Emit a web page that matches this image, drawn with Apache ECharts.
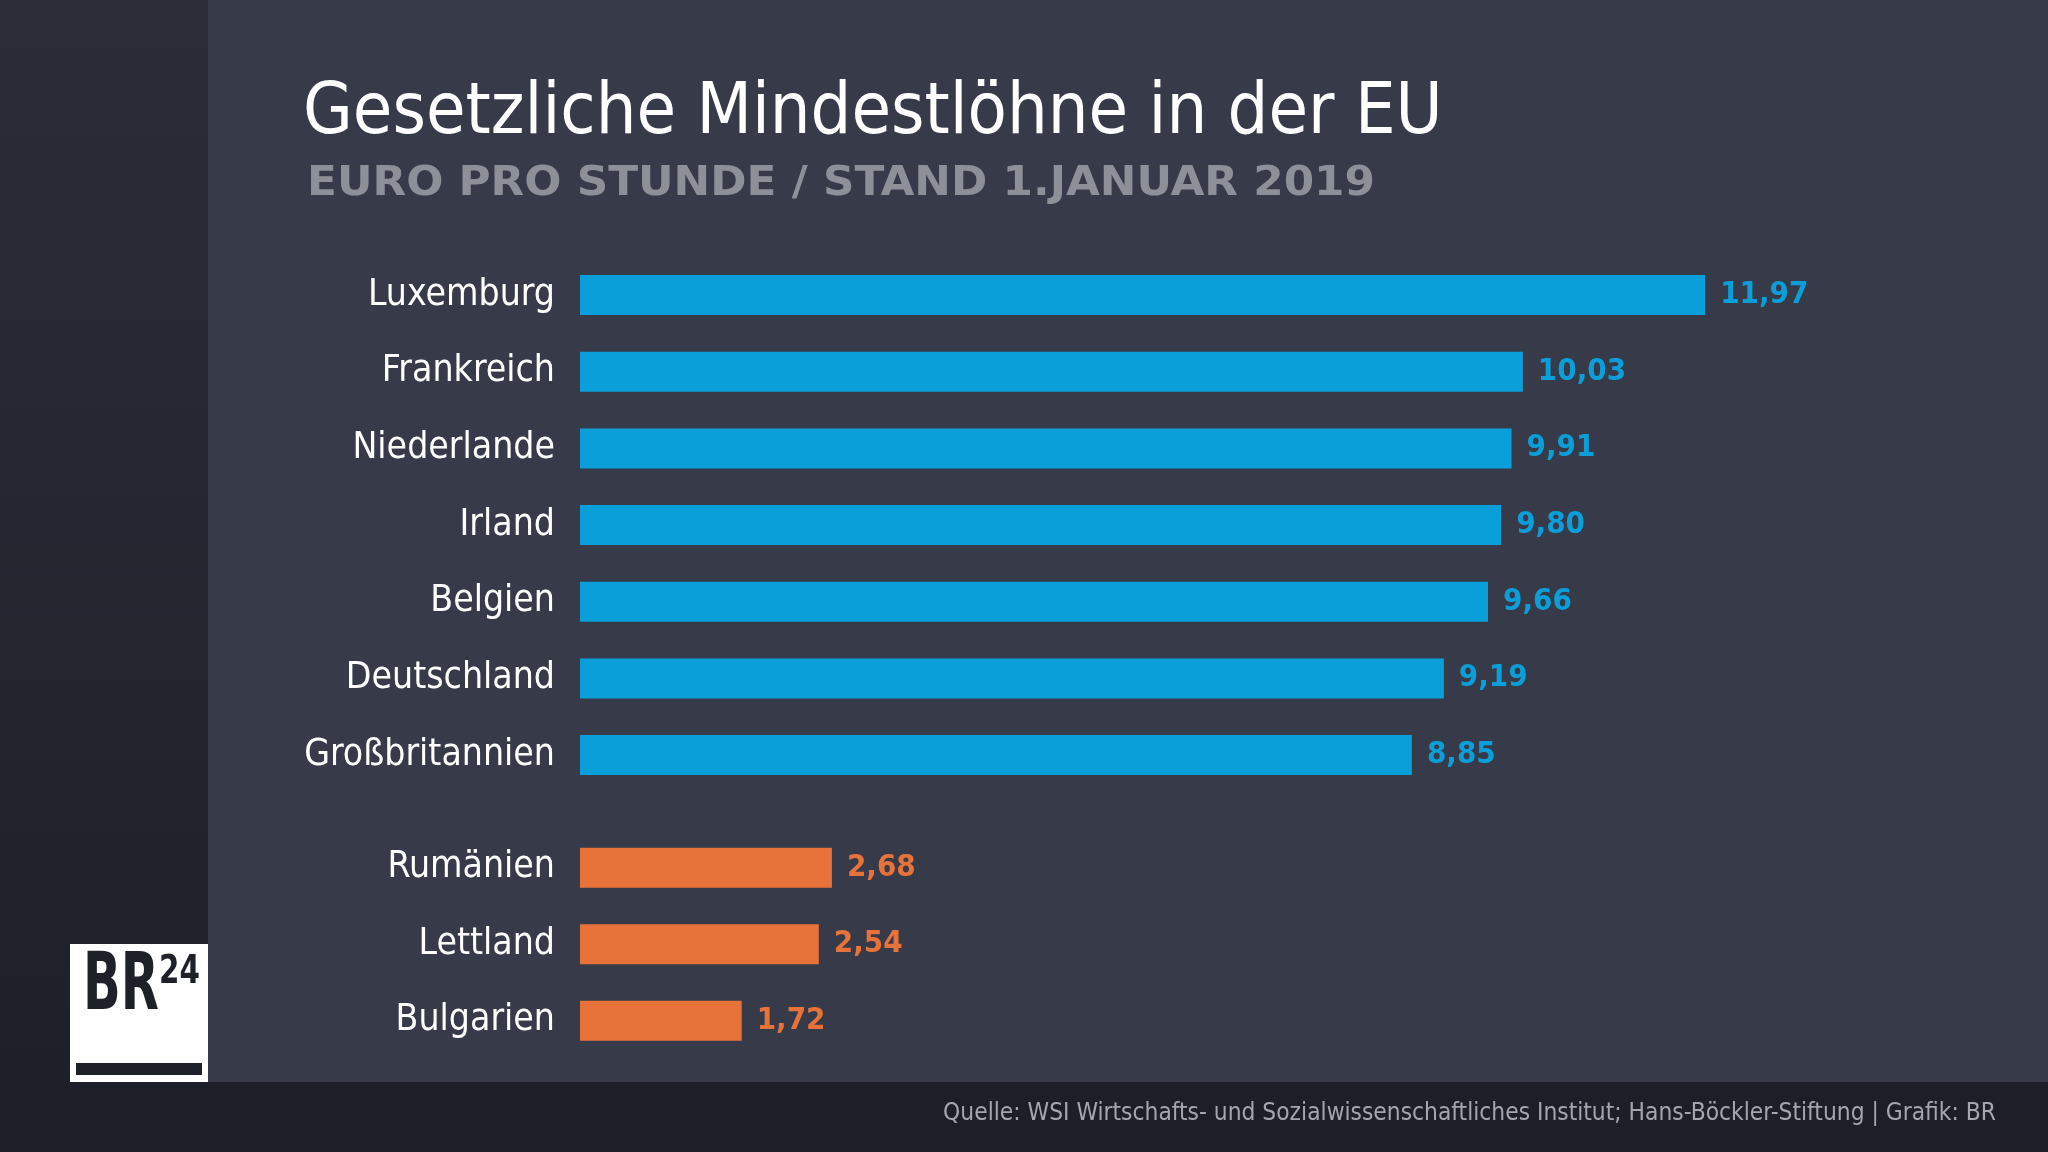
<!DOCTYPE html>
<html><head><meta charset="utf-8">
<script src="https://cdn.jsdelivr.net/npm/echarts@6/dist/echarts.min.js"></script>
<style>html,body{margin:0;padding:0;background:#363a49}#c{width:2048px;height:1152px}</style>
</head><body><div id="c"></div>
<script>
// ---- data ----
const topCountries = ['Luxemburg','Frankreich','Niederlande','Irland','Belgien','Deutschland','Großbritannien'];
const topValues = [11.97, 10.03, 9.91, 9.80, 9.66, 9.19, 8.85];
const bottomCountries = ['Rumänien','Lettland','Bulgarien'];
const bottomValues = [2.68, 2.54, 1.72];
const titleText = 'Gesetzliche Mindestlöhne in der EU';
const subtitleText = 'EURO PRO STUNDE / STAND 1.JANUAR 2019';
const sourceText = 'Quelle: WSI Wirtschafts- und Sozialwissenschaftliches Institut; Hans-Böckler-Stiftung | Grafik: BR';

// ---- font helpers ----
const ctx = document.createElement('canvas').getContext('2d');
function hasFont(f){
  const s='abcdefghijklmnopqrstuvwxyzABCDEFGHIJ0123456789';
  ctx.font='72px monospace'; const a=ctx.measureText(s).width;
  ctx.font="72px '"+f+"', monospace"; const b=ctx.measureText(s).width;
  ctx.font='72px serif'; const c=ctx.measureText(s).width;
  ctx.font="72px '"+f+"', serif"; const d=ctx.measureText(s).width;
  return a!==b || c!==d;
}
const candidates = ['Liberation Sans Narrow','DejaVu Sans Condensed','Noto Sans'];
let FONT = 'Noto Sans';
for (const f of candidates){ if (hasFont(f)){ FONT=f; break; } }
function textW(text, weight, family, size){
  ctx.font = weight+" "+size+"px '"+family+"'";
  return ctx.measureText(text).width;
}
function fit(text, weight, family, target){ return 100*target/textW(text,weight,family,100); }

const titleSize = fit(titleText,'normal',FONT,1140);
const subSize = 41;
const subScaleX = 1068 / textW(subtitleText,'bold',FONT,subSize);
const srcSize = fit(sourceText,'normal',FONT,1053);
const labelSize = fit('Großbritannien','normal',FONT,251);
const valSize = 31;
const brSize = fit('BR','bold',FONT,76);
const brScaleY = 58 / (0.73*brSize);
const n24Size = fit('24','bold',FONT,41);
const n24ScaleY = 29 / (0.73*n24Size);

const fmt = p => p.value.toFixed(2).replace('.', ',');
const BLUE = '#0b9fd9', ORANGE = '#e8733a';

const chart = echarts.init(document.getElementById('c'), null, {renderer:'canvas'});
const yCommon = {
  type:'category', inverse:true,
  axisLine:{show:false}, axisTick:{show:false}, splitLine:{show:false},
  axisLabel:{color:'#ffffff', fontSize:labelSize, fontFamily:FONT, margin:25, padding:[5,0,0,0]}
};
const xCommon = {type:'value', min:0, max:12, show:false};
const barCommon = {type:'bar', barWidth:40, silent:true};

chart.setOption({
  animation:false,
  backgroundColor:'#363a49',
  grid:[
    {left:580, top:256.7, width:1128, height:536.7},
    {left:580, top:829.4, width:1128, height:229.5}
  ],
  xAxis:[Object.assign({gridIndex:0}, xCommon), Object.assign({gridIndex:1}, xCommon)],
  yAxis:[
    Object.assign({gridIndex:0, data:topCountries}, yCommon),
    Object.assign({gridIndex:1, data:bottomCountries}, yCommon)
  ],
  series:[
    Object.assign({xAxisIndex:0, yAxisIndex:0, data:topValues,
      itemStyle:{color:BLUE},
      label:{show:true, position:'right', distance:15, padding:[5,0,0,0], color:BLUE, fontWeight:'bold', fontFamily:FONT, fontSize:valSize, formatter:fmt}
    }, barCommon),
    Object.assign({xAxisIndex:1, yAxisIndex:1, data:bottomValues,
      itemStyle:{color:ORANGE},
      label:{show:true, position:'right', distance:15, padding:[5,0,0,0], color:ORANGE, fontWeight:'bold', fontFamily:FONT, fontSize:valSize, formatter:fmt}
    }, barCommon)
  ],
  graphic:[
    {type:'rect', z:-10, shape:{x:0,y:0,width:208,height:1082},
      style:{fill:new echarts.graphic.LinearGradient(0,0,0,1,[{offset:0,color:'#2a2d38'},{offset:1,color:'#1e2029'}])}},
    {type:'rect', z:-10, shape:{x:0,y:1082,width:2048,height:70}, style:{fill:'#1d1f28'}},
    {type:'text', x:303, y:114, style:{text:titleText, fill:'#ffffff', font:'normal '+titleSize.toFixed(1)+"px '"+FONT+"'", textAlign:'left', textVerticalAlign:'middle'}},
    {type:'text', x:307, y:184, scaleX:subScaleX, style:{text:subtitleText, fill:'#8d9099', font:'bold '+subSize+"px '"+FONT+"'", textAlign:'left', textVerticalAlign:'middle'}},
    {type:'text', x:1996, y:1114, style:{text:sourceText, fill:'#a3a6ad', font:'normal '+srcSize.toFixed(1)+"px '"+FONT+"'", textAlign:'right', textVerticalAlign:'middle'}},
    // logo
    {type:'rect', shape:{x:70,y:944,width:138,height:138}, style:{fill:'#ffffff'}},
    {type:'text', x:83, y:988, scaleY:brScaleY, style:{text:'BR', fill:'#1f2129', font:'bold '+brSize.toFixed(1)+"px '"+FONT+"'", textAlign:'left', textVerticalAlign:'middle'}},
    {type:'text', x:159, y:973, scaleY:n24ScaleY, style:{text:'24', fill:'#1f2129', font:'bold '+n24Size.toFixed(1)+"px '"+FONT+"'", textAlign:'left', textVerticalAlign:'middle'}},
    {type:'rect', shape:{x:76,y:1063,width:126,height:12}, style:{fill:'#1f2129'}}
  ]
});
</script>
</body></html>
